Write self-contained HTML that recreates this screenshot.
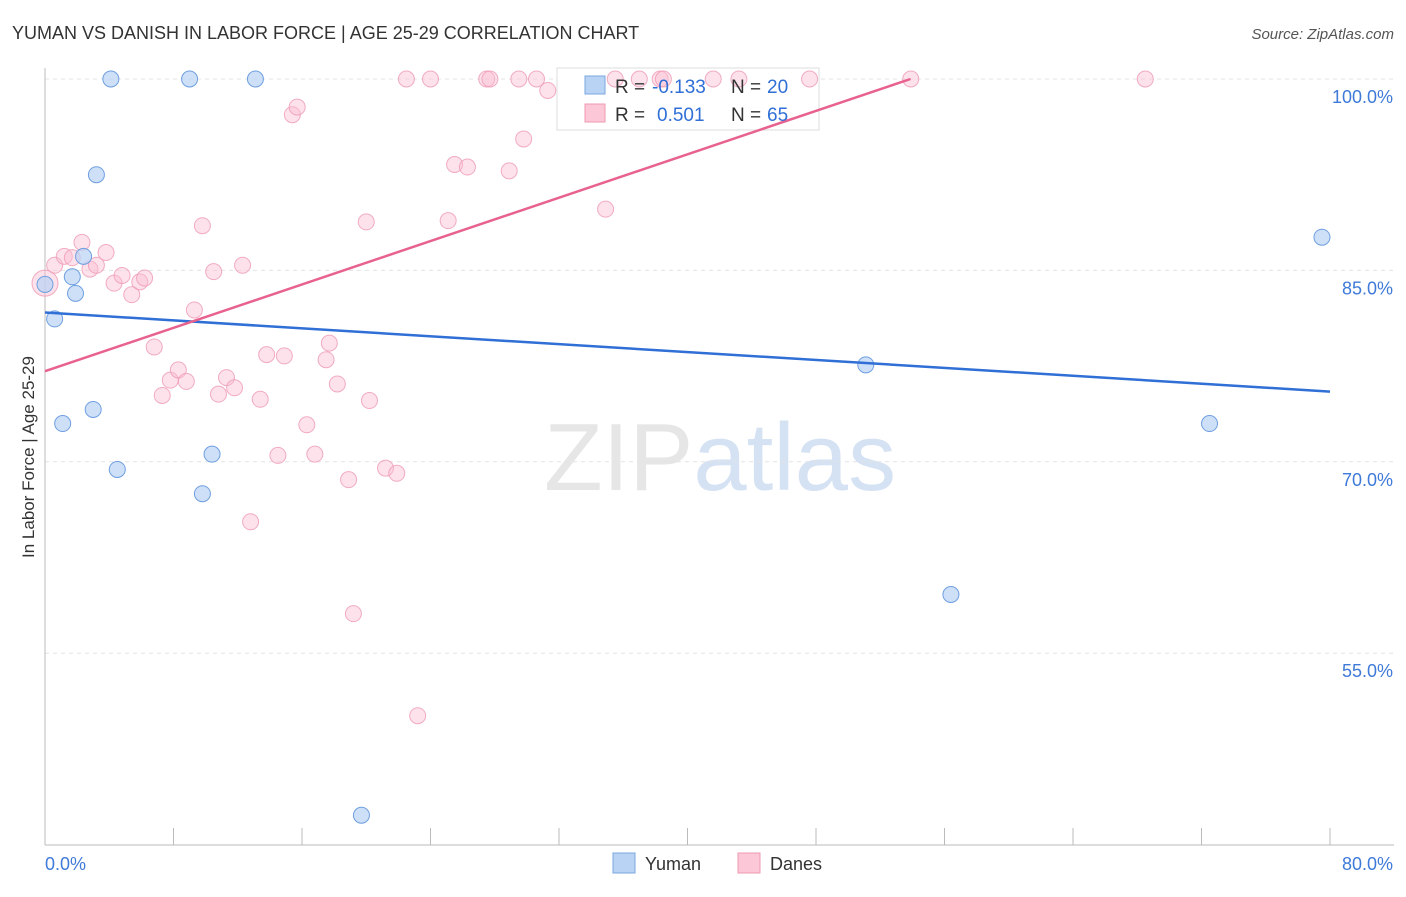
<!DOCTYPE html>
<html><head><meta charset="utf-8"><style>
body{margin:0;background:#fff;font-family:"Liberation Sans",sans-serif;}
svg text{font-family:"Liberation Sans",sans-serif;}
</style></head><body>
<svg id="chart" width="1406" height="892" xmlns="http://www.w3.org/2000/svg">
<text x="12" y="39" font-size="18" fill="#333">YUMAN VS DANISH IN LABOR FORCE | AGE 25-29 CORRELATION CHART</text>
<text x="1394" y="39" font-size="15" fill="#555" text-anchor="end" font-style="italic">Source: ZipAtlas.com</text>
<text x="720" y="490" font-size="96" text-anchor="middle" fill="#e6e6e6" font-family="Liberation Serif">ZIP<tspan fill="#d5e2f3" font-family="Liberation Sans">atlas</tspan></text>
<g id="grid"></g>
<g id="axes"></g>
<rect x="557" y="68" width="262" height="62" fill="#fff" stroke="#ddd"/>
<g id="marks"></g>
<text transform="translate(34,457) rotate(-90)" font-size="17" fill="#333" text-anchor="middle">In Labor Force | Age 25-29</text>
<g>
<rect x="585" y="76" width="20" height="18" fill="#b9d3f5" stroke="#7aa7e0"/>
<rect x="585" y="104" width="20" height="18" fill="#fcc7d6" stroke="#ee9ab3"/>
<text x="615" y="93" font-size="19" fill="#333">R = </text><text x="652" y="93" font-size="19" fill="#2f6fd6">-0.133</text>
<text x="731" y="93" font-size="19" fill="#333">N = </text><text x="767" y="93" font-size="19" fill="#2f6fd6">20</text>
<text x="615" y="121" font-size="19" fill="#333">R = </text><text x="657" y="121" font-size="19" fill="#2f6fd6">0.501</text>
<text x="731" y="121" font-size="19" fill="#333">N = </text><text x="767" y="121" font-size="19" fill="#2f6fd6">65</text>
</g>
<g>
<rect x="613" y="853" width="22" height="20" fill="#b9d3f5" stroke="#7aa7e0"/>
<text x="645" y="870" font-size="18" fill="#333">Yuman</text>
<rect x="738" y="853" width="22" height="20" fill="#fcc7d6" stroke="#ee9ab3"/>
<text x="770" y="870" font-size="18" fill="#333">Danes</text>
</g>
</svg>
<script>
const yumanX=[0,0.6,1.1,1.7,1.9,2.4,3.0,3.2,4.1,4.5,9.0,9.8,10.4,13.1,19.7,51.1,56.4,72.5,79.5];
const yumanY=[83.9,81.2,73.0,84.5,83.2,86.1,74.1,92.5,100,69.4,100,67.5,70.6,100,42.3,77.6,59.6,73.0,87.6];
const danesX=[0,0.6,1.2,1.7,2.3,2.8,3.2,3.8,4.3,4.8,5.4,5.9,6.2,6.8,7.3,7.8,8.3,8.8,9.3,9.8,10.5,10.8,11.3,11.8,12.3,12.8,13.4,13.8,14.5,14.9,15.4,15.7,16.3,16.8,17.5,17.7,18.2,18.9,19.2,20.0,20.2,21.2,21.9,22.5,23.2,24.0,25.1,25.5,26.3,27.5,27.7,28.9,29.5,29.8,30.6,31.3,34.9,35.5,37.0,38.3,38.5,41.6,43.2,47.6,53.9,68.5];
const danesY=[84.0,85.4,86.1,86.0,87.2,85.1,85.4,86.4,84.0,84.6,83.1,84.1,84.4,79.0,75.2,76.4,77.2,76.3,81.9,88.5,84.9,75.3,76.6,75.8,85.4,65.3,74.9,78.4,70.5,78.3,97.2,97.8,72.9,70.6,78.0,79.3,76.1,68.6,58.1,88.8,74.8,69.5,69.1,100,50.1,100,88.9,93.3,93.1,100,100,92.8,100,95.3,100,99.1,89.8,100,100,100,100,100,100,100,100,100];
const yumanTrend=[81.7,75.5];   // value at x=0 and x=80
const danesTrend=[77.1,0.425];  // intercept, slope
const X=v=>45+v*16.0625, Y=v=>79+(100-v)*12.76;
const NS="http://www.w3.org/2000/svg";
function mk(t,a,p){const e=document.createElementNS(NS,t);for(const k in a)e.setAttribute(k,a[k]);p.appendChild(e);return e;}
const grid=document.getElementById('grid'),axes=document.getElementById('axes'),marks=document.getElementById('marks');
const yTicks=[100,85,70,55];
const yTickLabels=["100.0%","85.0%","70.0%","55.0%"];
yTicks.forEach((v,i)=>{
 const l=mk('line',{x1:45,x2:1394,y1:Y(v),y2:Y(v),stroke:'#e3e3e3','stroke-dasharray':'4,4'},grid);
 
 
 const t=mk('text',{x:1393,y:Y(v)+24,'font-size':18,fill:'#3f7ad8','text-anchor':'end'},axes);
 t.textContent=yTickLabels[i];
 
 
});
mk('line',{x1:45,x2:45,y1:68,y2:845,stroke:'#bbb'},axes);
mk('line',{x1:45,x2:1394,y1:845,y2:845,stroke:'#bbb'},axes);
for(let i=0;i<=10;i++){const x=X(i*8);mk('line',{x1:x,x2:x,y1:828,y2:845,stroke:'#bbb'},axes);}
const xl=mk('text',{x:45,y:870,'font-size':18,fill:'#3f7ad8'},axes);xl.textContent="0.0%";


const xr=mk('text',{x:1393,y:870,'font-size':18,fill:'#3f7ad8','text-anchor':'end'},axes);xr.textContent="80.0%";


danesX.forEach((v,i)=>{
 const c=mk('circle',{cx:X(v),cy:Y(danesY[i]),r:i==0?13:8,fill:'rgba(250,190,210,0.45)',stroke:'rgba(238,154,179,0.8)','stroke-width':1},marks);
 
 
});
yumanX.forEach((v,i)=>{
 const c=mk('circle',{cx:X(v),cy:Y(yumanY[i]),r:8,fill:'rgba(185,211,245,0.7)',stroke:'#6f9fe0','stroke-width':1},marks);
 
 
});
const bl=mk('line',{x1:X(0),y1:Y(yumanTrend[0]),x2:X(80),y2:Y(yumanTrend[1]),stroke:'#2f6fd6','stroke-width':2.5},marks);


const xe=Math.min(80,(100-danesTrend[0])/danesTrend[1]);
const pl=mk('line',{x1:X(0),y1:Y(danesTrend[0]),x2:X(xe),y2:Y(danesTrend[0]+danesTrend[1]*xe),stroke:'#e8628f','stroke-width':2.5},marks);


</script>
</body></html>
